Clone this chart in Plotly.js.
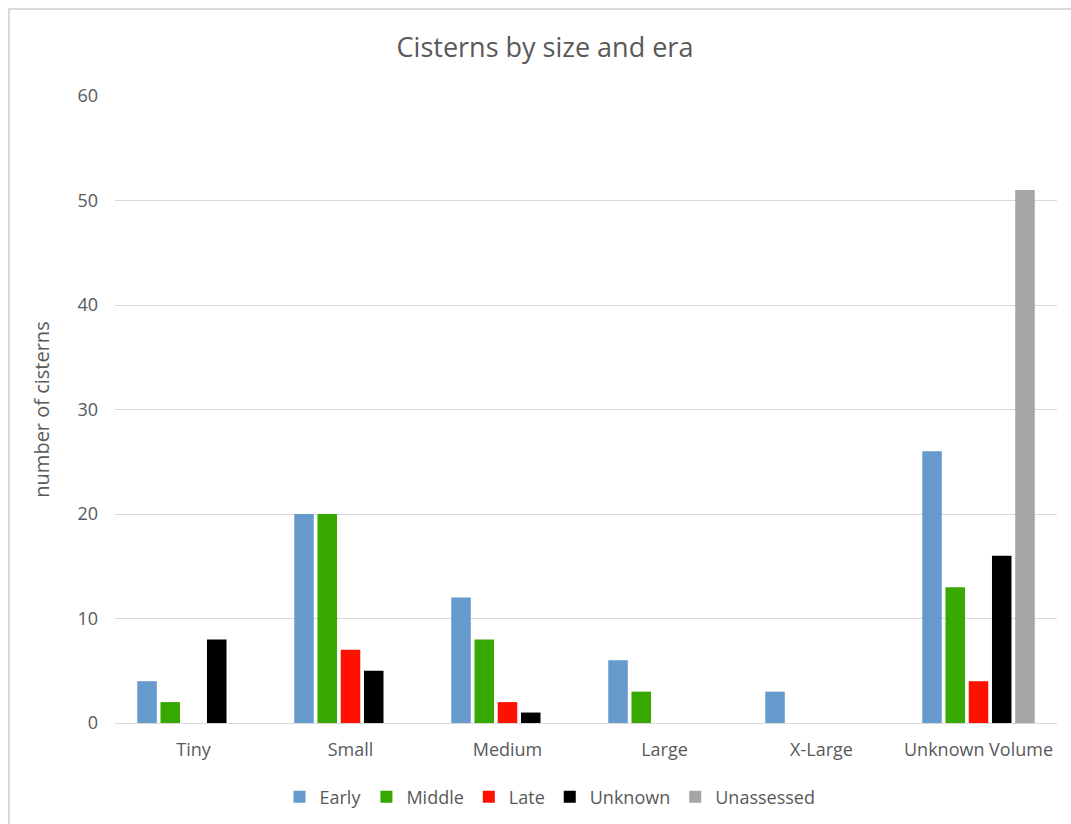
<!DOCTYPE html>
<html>
<head>
<meta charset="utf-8">
<script src="https://cdn.plot.ly/plotly-3.0.1.min.js"></script>
<style>
  html, body { margin: 0; padding: 0; background: #ffffff; overflow: hidden; }
  #chart { position: absolute; left: 0; top: 0; width: 1071px; height: 824px; }
  #frame { position: absolute; left: 8px; top: 8px; width: 2000px; height: 2000px;
           border-left: 2px solid #d9d9d9; border-top: 2px solid #d9d9d9; pointer-events: none; }
</style>
</head>
<body>
<div id="chart"></div>
<div id="frame"></div>
<script>
// Cistern counts per size class, split by era
const categories = ["Tiny", "Small", "Medium", "Large", "X-Large", "Unknown Volume"];
const early      = [4, 20, 12, 6, 3, 26];
const middle     = [2, 20, 8, 3, 0, 13];
const late       = [0, 7, 2, 0, 0, 4];
const unknown    = [8, 5, 1, 0, 0, 16];
const unassessed = [0, 0, 0, 0, 0, 51];
const yTicks     = [0, 10, 20, 30, 40, 50, 60];

const seriesNames  = ["Early", "Middle", "Late", "Unknown", "Unassessed"];
const seriesValues = [early, middle, late, unknown, unassessed];
const seriesColors = ["#6699cc", "#36a800", "#ff1100", "#000000", "#a5a5a5"];

const textColor = "#595959";
const font = "Open Sans, Noto Sans, sans-serif";

const traces = seriesNames.map((name, i) => ({
  type: "bar",
  name: name,
  x: categories,
  y: seriesValues[i],
  marker: { color: seriesColors[i], line: { width: 0 } },
  hoverinfo: "x+y+name"
}));

const layout = {
  width: 1071,
  height: 824,
  paper_bgcolor: "#ffffff",
  plot_bgcolor: "#ffffff",
  margin: { l: 115, r: 14, t: 96, b: 101 },
  font: { family: font, color: textColor, size: 18 },
  title: {
    text: "Cisterns by size and era",
    font: { family: font, size: 27, color: textColor },
    xref: "container", x: 545 / 1071, xanchor: "center",
    yref: "container", y: 1 - 48 / 824, yanchor: "middle"
  },
  barmode: "group",
  bargap: 0.26,
  bargroupgap: 0.16,
  xaxis: {
    type: "category",
    showgrid: false,
    showline: true,
    linecolor: "#d9d9d9",
    linewidth: 1,
    ticks: "",
    ticklabelstandoff: 10,
    tickfont: { family: font, size: 18, color: textColor },
    automargin: false
  },
  yaxis: {
    range: [0, 60],
    tickvals: yTicks,
    ticktext: yTicks.map(String),
    showgrid: true,
    gridcolor: "#d9d9d9",
    gridwidth: 1,
    zeroline: false,
    showline: false,
    ticks: "",
    ticklabelstandoff: 16,
    tickfont: { family: font, size: 18, color: textColor },
    title: {
      text: "number of cisterns",
      font: { family: font, size: 20, color: textColor },
      standoff: 22
    },
    automargin: false
  },
  legend: {
    orientation: "h",
    xref: "container", x: 550 / 1071, xanchor: "center",
    yref: "container", y: 1 - 797 / 824, yanchor: "middle",
    font: { family: font, size: 18, color: textColor },
    itemwidth: 30,
    traceorder: "normal",
    bgcolor: "rgba(0,0,0,0)"
  },
  showlegend: true
};

Plotly.newPlot("chart", traces, layout, { displayModeBar: false, staticPlot: true });
</script>
</body>
</html>
